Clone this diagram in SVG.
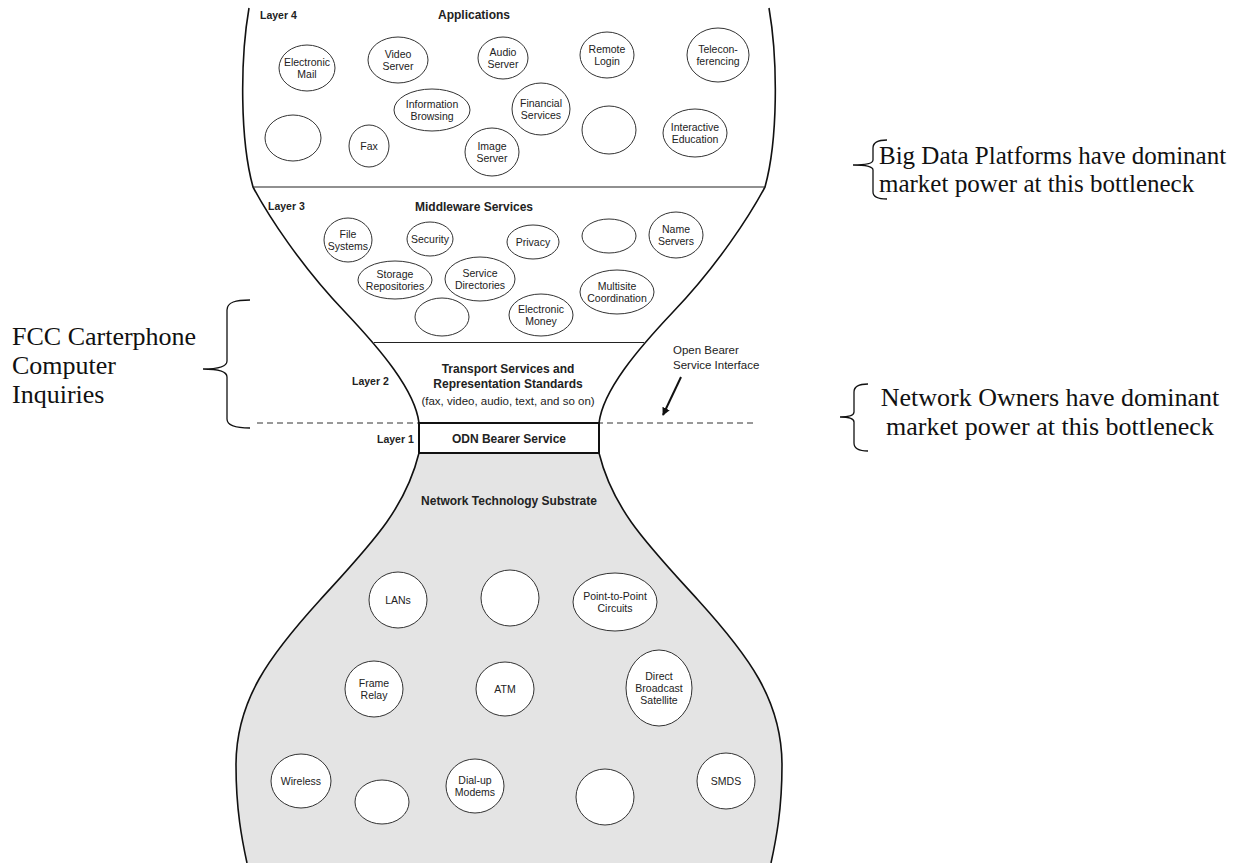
<svg xmlns="http://www.w3.org/2000/svg" width="1257" height="863" viewBox="0 0 1257 863">
<style>
  .bg{fill:#ffffff}
  .outline{fill:none;stroke:#111;stroke-width:1.6}
  .sub{fill:#e4e4e4;stroke:none}
  .ln{stroke:#222;stroke-width:1.2;fill:none}
  .dash{stroke:#333;stroke-width:1;stroke-dasharray:6 4;fill:none}
  .box{fill:#fff;stroke:#111;stroke-width:2}
  .el{fill:#fff;stroke:#333;stroke-width:1}
  .t{font-family:"Liberation Sans",Arial,sans-serif;font-size:10.5px;fill:#222;text-anchor:middle}
  .h{font-family:"Liberation Sans",Arial,sans-serif;font-size:12px;font-weight:bold;fill:#222;text-anchor:middle}
  .lay{font-family:"Liberation Sans",Arial,sans-serif;font-size:10.5px;font-weight:bold;fill:#222}
  .r{font-family:"Liberation Sans",Arial,sans-serif;font-size:11.5px;fill:#222}
  .ann{font-family:"Liberation Serif","Times New Roman",serif;fill:#111}
  .brace{fill:none;stroke:#111;stroke-width:1.3}
</style>
<defs>
  <marker id="ah" viewBox="0 0 10 10" refX="9" refY="5" markerWidth="4" markerHeight="4" orient="auto" markerUnits="strokeWidth">
    <path d="M0,0 L10,5 L0,10 z" fill="#111"/>
  </marker>
</defs>
<rect class="bg" x="0" y="0" width="1257" height="863"/>

<g id="hourglass">
  <path class="sub" d="M419,453 C405,510 370,545 320,600 C270,655 236,700 236,765 C236,810 242,840 247,863 L771,863 C776,840 782,810 782,765 C782,700 748,655 698,600 C648,545 613,510 599,453 Z"/>
  <path class="outline" d="M249,8 C240,60 240,140 253,187 C268,215 300,265 345,312 C380,349 415,390 419,423"/>
  <path class="outline" d="M769,8 C778,60 778,140 765,187 C750,215 718,265 673,312 C638,349 603,390 599,423"/>
  <path class="outline" d="M419,453 C405,510 370,545 320,600 C270,655 236,700 236,765 C236,810 242,840 247,863"/>
  <path class="outline" d="M599,453 C613,510 648,545 698,600 C748,655 782,700 782,765 C782,810 776,840 771,863"/>
  <line class="ln" x1="253" y1="187" x2="765" y2="187"/>
  <line class="ln" x1="374" y1="342.5" x2="644" y2="342.5"/>
  <line class="dash" x1="257" y1="423" x2="757" y2="423"/>
</g>

<g id="layer-labels">
  <text class="lay" x="260" y="19">Layer 4</text>
  <text class="h" x="474" y="19">Applications</text>
  <text class="lay" x="268" y="210">Layer 3</text>
  <text class="h" x="474" y="211">Middleware Services</text>
  <text class="lay" x="352" y="385">Layer 2</text>
  <text class="h" x="508" y="373">Transport Services and</text>
  <text class="h" x="508" y="388">Representation Standards</text>
  <text class="r" x="508" y="405" text-anchor="middle">(fax, video, audio, text, and so on)</text>
  <text class="lay" x="377" y="443">Layer 1</text>
  <text class="h" x="509" y="505">Network Technology Substrate</text>
</g>

<g id="odn-bearer">
  <rect class="box" x="419" y="423" width="180" height="30"/>
  <text class="h" x="509" y="443">ODN Bearer Service</text>
</g>

<g id="open-bearer-interface">
  <text class="r" x="673" y="354">Open Bearer</text>
  <text class="r" x="673" y="369">Service Interface</text>
</g>

<g id="connectors">
  <line x1="681" y1="377" x2="663" y2="415" stroke="#111" stroke-width="2" marker-end="url(#ah)"/>
</g>

<!-- Applications layer -->
<g id="electronic-mail"><ellipse class="el" cx="307" cy="68" rx="28" ry="23"/><text class="t" x="307" y="66">Electronic</text><text class="t" x="307" y="77.5">Mail</text></g>
<g id="video-server"><ellipse class="el" cx="398" cy="60" rx="30" ry="23"/><text class="t" x="398" y="58">Video</text><text class="t" x="398" y="69.5">Server</text></g>
<g id="audio-server"><ellipse class="el" cx="503" cy="58" rx="25" ry="21"/><text class="t" x="503" y="56">Audio</text><text class="t" x="503" y="67.5">Server</text></g>
<g id="remote-login"><ellipse class="el" cx="607" cy="55" rx="27" ry="23"/><text class="t" x="607" y="53">Remote</text><text class="t" x="607" y="64.5">Login</text></g>
<g id="teleconferencing"><ellipse class="el" cx="718" cy="55" rx="31" ry="27"/><text class="t" x="718" y="53">Telecon-</text><text class="t" x="718" y="64.5">ferencing</text></g>
<g id="information-browsing"><ellipse class="el" cx="432" cy="110" rx="38" ry="21"/><text class="t" x="432" y="108">Information</text><text class="t" x="432" y="119.5">Browsing</text></g>
<g id="financial-services"><ellipse class="el" cx="541" cy="109" rx="29" ry="26"/><text class="t" x="541" y="107">Financial</text><text class="t" x="541" y="118.5">Services</text></g>
<g id="app-empty-1"><ellipse class="el" cx="293" cy="138" rx="28" ry="23"/></g>
<g id="fax"><ellipse class="el" cx="369" cy="146" rx="20" ry="21"/><text class="t" x="369" y="150">Fax</text></g>
<g id="image-server"><ellipse class="el" cx="492" cy="152" rx="27" ry="24"/><text class="t" x="492" y="150">Image</text><text class="t" x="492" y="161.5">Server</text></g>
<g id="app-empty-2"><ellipse class="el" cx="609" cy="130" rx="27" ry="24"/></g>
<g id="interactive-education"><ellipse class="el" cx="695" cy="133" rx="32" ry="24"/><text class="t" x="695" y="131">Interactive</text><text class="t" x="695" y="142.5">Education</text></g>

<!-- Middleware layer -->
<g id="file-systems"><ellipse class="el" cx="348" cy="240" rx="24" ry="22"/><text class="t" x="348" y="238">File</text><text class="t" x="348" y="249.5">Systems</text></g>
<g id="security"><ellipse class="el" cx="430" cy="239" rx="23" ry="17"/><text class="t" x="430" y="243">Security</text></g>
<g id="privacy"><ellipse class="el" cx="533" cy="242" rx="26" ry="17"/><text class="t" x="533" y="246">Privacy</text></g>
<g id="mid-empty-1"><ellipse class="el" cx="609" cy="236" rx="27" ry="17"/></g>
<g id="name-servers"><ellipse class="el" cx="676" cy="235" rx="27" ry="23"/><text class="t" x="676" y="233">Name</text><text class="t" x="676" y="244.5">Servers</text></g>
<g id="storage-repositories"><ellipse class="el" cx="395" cy="280" rx="37" ry="19"/><text class="t" x="395" y="278">Storage</text><text class="t" x="395" y="289.5">Repositories</text></g>
<g id="service-directories"><ellipse class="el" cx="480" cy="279" rx="35" ry="22"/><text class="t" x="480" y="277">Service</text><text class="t" x="480" y="288.5">Directories</text></g>
<g id="multisite-coordination"><ellipse class="el" cx="617" cy="292" rx="37" ry="22"/><text class="t" x="617" y="290">Multisite</text><text class="t" x="617" y="301.5">Coordination</text></g>
<g id="mid-empty-2"><ellipse class="el" cx="442" cy="317" rx="27" ry="19"/></g>
<g id="electronic-money"><ellipse class="el" cx="541" cy="315" rx="32" ry="21"/><text class="t" x="541" y="313">Electronic</text><text class="t" x="541" y="324.5">Money</text></g>

<!-- Network technology substrate -->
<g id="lans"><ellipse class="el" cx="398" cy="600" rx="29" ry="28"/><text class="t" x="398" y="604">LANs</text></g>
<g id="sub-empty-1"><ellipse class="el" cx="510" cy="598" rx="29" ry="28"/></g>
<g id="point-to-point"><ellipse class="el" cx="615" cy="602" rx="42" ry="29"/><text class="t" x="615" y="600">Point-to-Point</text><text class="t" x="615" y="611.5">Circuits</text></g>
<g id="frame-relay"><ellipse class="el" cx="374" cy="689" rx="29" ry="28"/><text class="t" x="374" y="687">Frame</text><text class="t" x="374" y="698.5">Relay</text></g>
<g id="atm"><ellipse class="el" cx="505" cy="689" rx="29" ry="27"/><text class="t" x="505" y="693">ATM</text></g>
<g id="direct-broadcast-satellite"><ellipse class="el" cx="659" cy="688" rx="33" ry="38"/><text class="t" x="659" y="680">Direct</text><text class="t" x="659" y="692">Broadcast</text><text class="t" x="659" y="704">Satellite</text></g>
<g id="wireless"><ellipse class="el" cx="301" cy="781" rx="30" ry="27"/><text class="t" x="301" y="785">Wireless</text></g>
<g id="sub-empty-2"><ellipse class="el" cx="382" cy="802" rx="27" ry="22"/></g>
<g id="dial-up-modems"><ellipse class="el" cx="475" cy="786" rx="29" ry="27"/><text class="t" x="475" y="784">Dial-up</text><text class="t" x="475" y="795.5">Modems</text></g>
<g id="sub-empty-3"><ellipse class="el" cx="605" cy="797" rx="29" ry="28"/></g>
<g id="smds"><ellipse class="el" cx="726" cy="781" rx="29" ry="28"/><text class="t" x="726" y="785">SMDS</text></g>

<!-- Annotations -->
<g id="fcc-annotation">
  <path class="brace" d="M250,300 C236,300 227,302 227,310 L227,361 C227,366 220,369 203,369 C220,369 227,372 227,377 L227,419 C227,426 236,428 250,428"/>
  <text class="ann" font-size="26" x="12" y="345">FCC Carterphone</text>
  <text class="ann" font-size="26" x="12" y="374">Computer</text>
  <text class="ann" font-size="26" x="12" y="403">Inquiries</text>
</g>
<g id="big-data-annotation">
  <path class="brace" d="M887,140 C878,140 873,142 873,148 L873,160 C873,163 868,165 853,165 C868,165 873,167 873,170 L873,192 C873,197 878,199 887,199"/>
  <text class="ann" font-size="25" x="879" y="164">Big Data Platforms have dominant</text>
  <text class="ann" font-size="25" x="879" y="192">market power at this bottleneck</text>
</g>
<g id="network-owners-annotation">
  <path class="brace" d="M868,384 C859,384 854,386 854,392 L854,412 C854,415 850,417 840,417 C850,417 854,419 854,422 L854,443 C854,449 859,451 868,451"/>
  <text class="ann" font-size="26" x="1050" y="406" text-anchor="middle">Network Owners have dominant</text>
  <text class="ann" font-size="26" x="1050" y="435" text-anchor="middle">market power at this bottleneck</text>
</g>
</svg>
